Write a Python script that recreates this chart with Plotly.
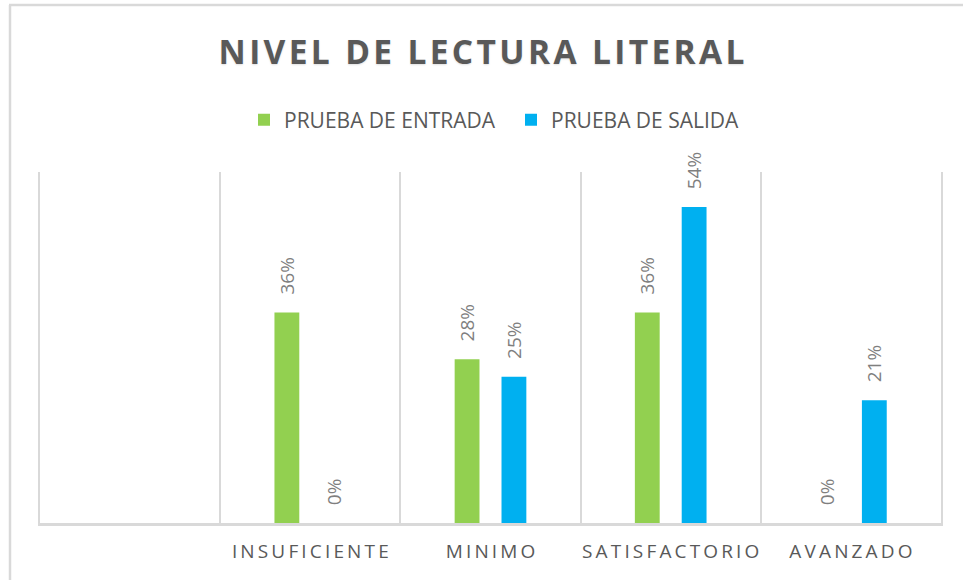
import plotly.graph_objects as go

# --- data -------------------------------------------------------------
categories = [" ", "INSUFICIENTE", "MINIMO", "SATISFACTORIO", "AVANZADO"]
entrada = [None, 0.36, 0.28, 0.36, 0.00]   # PRUEBA DE ENTRADA
salida = [None, 0.00, 0.25, 0.54, 0.21]    # PRUEBA DE SALIDA
series_names = ["PRUEBA DE ENTRADA", "PRUEBA DE SALIDA"]
title_text = "NIVEL DE LECTURA LITERAL"

# --- style ------------------------------------------------------------
GREEN = "#92D050"
BLUE = "#00B0F0"
DARK_GREY = "#595959"
LABEL_GREY = "#7f7f7f"
RULE_GREY = "#d9d9d9"
FONT = "Open Sans, DejaVu Sans, sans-serif"

W, H = 963, 580
ML, MR, MT, MB = 40, 22, 172, 57


def tracked(text, gap):
    """Letter-spaced text: a narrow space between letters, a wider one between words."""
    words = text.split(" ")
    return (gap + " " + gap).join(gap.join(w) for w in words)


x_labels = [tracked(c, "\u2009") if c.strip() else c for c in categories]
pad = "\u00a0\u00a0\u00a0"  # room between bar end and its rotated label

fig = go.Figure()
for name, vals, color in zip(series_names, [entrada, salida], [GREEN, BLUE]):
    fig.add_trace(go.Bar(
        name=name,
        x=x_labels,
        y=vals,
        marker=dict(color=color, line=dict(width=0)),
        text=[None if v is None else f"{pad}{round(v * 100):d}%" for v in vals],
        textposition="outside",
        textangle=-90,
        constraintext="none",
        cliponaxis=False,
        textfont=dict(family=FONT, size=19, color=LABEL_GREY),
        hoverinfo="skip",
    ))

# chart frame (outer border of the chart area)
def px_to_paper_x(px):
    return (px - ML) / (W - ML - MR)


def px_to_paper_y(py):
    return (H - MB - py) / (H - MT - MB)


frame = dict(type="line", xref="paper", yref="paper",
             line=dict(color=RULE_GREY, width=2.5), layer="below")
shapes = [
    dict(frame, x0=px_to_paper_x(10), x1=px_to_paper_x(10),
         y0=px_to_paper_y(5), y1=px_to_paper_y(600)),
    dict(frame, x0=px_to_paper_x(9), x1=px_to_paper_x(980),
         y0=px_to_paper_y(5), y1=px_to_paper_y(5)),
]

fig.update_layout(
    width=W, height=H,
    margin=dict(l=ML, r=MR, t=MT, b=MB, pad=0, autoexpand=False),
    paper_bgcolor="white",
    plot_bgcolor="white",
    barmode="group",
    bargap=0.48,
    bargroupgap=0.47,
    shapes=shapes,
    title=dict(
        text=tracked(title_text, "\u200a"),
        x=0.5, xref="container", xanchor="center",
        y=1 - 52 / H, yref="container", yanchor="middle",
        font=dict(family=FONT, size=33.5, color=DARK_GREY, weight="bold",
                  shadow="0px 1px 2px rgba(0,0,0,0.12)"),
    ),
    legend=dict(
        orientation="h",
        x=px_to_paper_x(244), xanchor="left",
        y=px_to_paper_y(120), yanchor="middle",
        entrywidth=222, entrywidthmode="pixels",
        font=dict(family=FONT, size=21, color=DARK_GREY),
        bgcolor="rgba(0,0,0,0)",
        itemclick=False, itemdoubleclick=False,
    ),
    showlegend=True,
    xaxis=dict(
        type="category",
        categoryorder="array",
        categoryarray=x_labels,
        range=[-0.5, len(categories) - 0.5],
        tickson="boundaries",
        ticks="",
        tickangle=0,
        automargin=False,
        showgrid=True, gridcolor=RULE_GREY, gridwidth=2,
        showline=True, linecolor=RULE_GREY, linewidth=2.5,
        tickfont=dict(family=FONT, size=19, color=DARK_GREY),
        ticklabelstandoff=9,
        fixedrange=True,
    ),
    yaxis=dict(
        range=[0, 0.6],
        automargin=False,
        showgrid=False, zeroline=False,
        showticklabels=False, ticks="",
        showline=True, mirror=True, linecolor=RULE_GREY, linewidth=2,
        fixedrange=True,
    ),
)

fig.write_html("out.html", config={"displayModeBar": False})
